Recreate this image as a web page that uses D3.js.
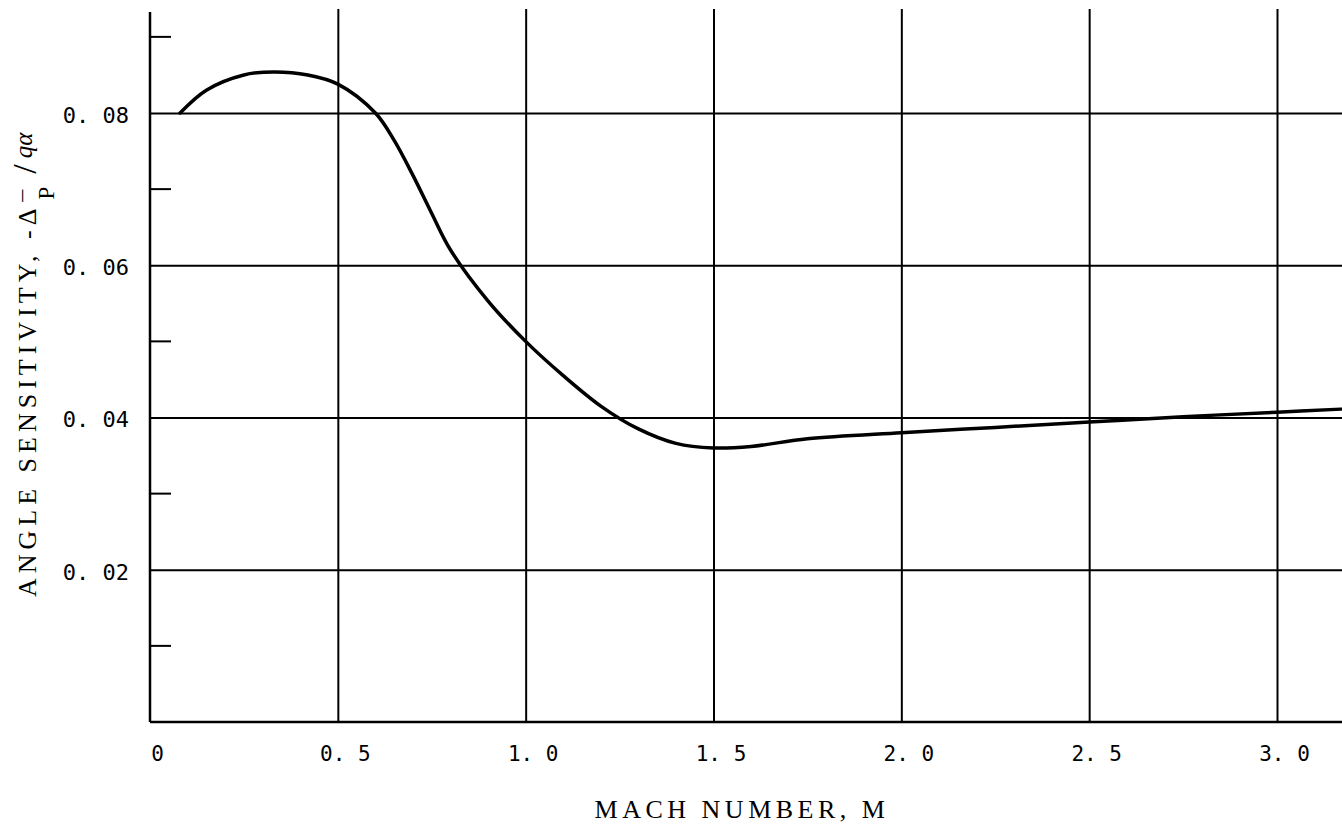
<!DOCTYPE html>
<html>
<head>
<meta charset="utf-8">
<script src="https://cdn.jsdelivr.net/npm/d3@7"></script>
<style>
  body { margin: 0; background: #fff; }
</style>
</head>
<body>
<div id="vis"></div>
<script>
// curve: Mach number vs angle sensitivity
const mach = [0.08, 0.15, 0.25, 0.33, 0.42, 0.5, 0.6, 0.65, 0.7, 0.75, 0.8, 0.9, 1.0, 1.1, 1.2, 1.3, 1.4, 1.5, 1.6, 1.75, 2.0, 2.25, 2.5, 2.75, 3.0, 3.17];
const sensitivity = [0.0800, 0.0830, 0.0850, 0.0854, 0.0850, 0.0838, 0.0800, 0.0764, 0.0718, 0.0668, 0.0620, 0.0553, 0.0500, 0.0455, 0.0415, 0.0385, 0.0366, 0.0360, 0.0362, 0.0372, 0.0380, 0.0387, 0.0394, 0.0401, 0.0407, 0.0411];

const xTicks = [0, 0.5, 1.0, 1.5, 2.0, 2.5, 3.0];
const xTickLabels = ["0", "0. 5", "1. 0", "1. 5", "2. 0", "2. 5", "3. 0"];
const yMajor = [0.02, 0.04, 0.06, 0.08];
const yTickLabels = ["0. 02", "0. 04", "0. 06", "0. 08"];
const yMinor = [0.01, 0.03, 0.05, 0.07, 0.09];

const width = 1342;
const height = 825;
const margin = ({top: 12, right: 0, bottom: 103, left: 150});
const mono = "'DejaVu Sans Mono', 'Liberation Mono', monospace";
const serif = "'Liberation Serif', 'DejaVu Serif', serif";

const svg = d3.create('svg')
    .attr('width', width)
    .attr('height', height);

// scales
const xScale = d3.scaleLinear()
    .domain([0, 3.0])
    .range([150, 1277]);
const yScale = d3.scaleLinear()
    .domain([0, 0.08])
    .range([height - margin.bottom, 113]);
const xMax = xScale.invert(width);
const yTop = 9;

// vertical grid + x labels
const xAxis = svg.append('g')
    .attr('transform', `translate(0, ${yScale(0)})`)
    .call(d3.axisBottom(xScale)
        .tickValues(xTicks)
        .tickSizeInner(-(yScale(0) - yTop))
        .tickSizeOuter(0)
        .tickPadding(24)
        .tickFormat((d, i) => xTickLabels[i]));
xAxis.select('.domain').remove();
xAxis.selectAll('line').attr('stroke', '#000').attr('stroke-width', 2);
xAxis.selectAll('line').filter(d => d === 0).remove();
xAxis.selectAll('text')
    .attr('dx', 7)
    .attr('font-family', mono)
    .attr('font-size', 21)
    .attr('fill', '#000');

// horizontal grid + y labels
const yAxis = svg.append('g')
    .attr('transform', `translate(${margin.left}, 0)`)
    .call(d3.axisLeft(yScale)
        .tickValues(yMajor)
        .tickSizeInner(-(width - margin.left))
        .tickSizeOuter(0)
        .tickPadding(21)
        .tickFormat((d, i) => yTickLabels[i]));
yAxis.select('.domain').remove();
yAxis.selectAll('line').attr('stroke', '#000').attr('stroke-width', 2);
yAxis.selectAll('text')
    .attr('dy', '0.42em')
    .attr('font-family', mono)
    .attr('font-size', 22)
    .attr('fill', '#000');

// minor ticks pointing inward
svg.append('g')
    .selectAll('line')
    .data(yMinor)
    .join('line')
    .attr('x1', margin.left)
    .attr('x2', margin.left + 21)
    .attr('y1', d => yScale(d))
    .attr('y2', d => yScale(d))
    .attr('stroke', '#000')
    .attr('stroke-width', 2);

// frame: left axis and bottom axis
svg.append('line')
    .attr('x1', xScale(0)).attr('x2', xScale(0))
    .attr('y1', margin.top).attr('y2', yScale(0))
    .attr('stroke', '#000').attr('stroke-width', 2.5);
svg.append('line')
    .attr('x1', xScale(0)).attr('x2', xScale(xMax))
    .attr('y1', yScale(0)).attr('y2', yScale(0))
    .attr('stroke', '#000').attr('stroke-width', 2.5);

// the curve
const data = mach.map((m, i) => ({m: m, s: sensitivity[i]}));
const line = d3.line()
    .x(d => xScale(d.m))
    .y(d => yScale(d.s))
    .curve(d3.curveCatmullRom.alpha(0.5));
svg.append('path')
    .datum(data)
    .attr('fill', 'none')
    .attr('stroke', '#000')
    .attr('stroke-width', 3.5)
    .attr('stroke-linecap', 'round')
    .attr('d', line);

// x title
svg.append('text')
    .attr('x', 742)
    .attr('y', 818)
    .attr('text-anchor', 'middle')
    .attr('font-family', serif)
    .attr('font-size', 26)
    .attr('letter-spacing', 4.5)
    .attr('fill', '#000')
    .text('MACH NUMBER,  M');

// y title, rotated
const yTitle = svg.append('text')
    .attr('transform', 'translate(36, 597) rotate(-90)')
    .attr('font-family', serif)
    .attr('font-size', 26)
    .attr('fill', '#000');
yTitle.append('tspan').attr('letter-spacing', 5).text('ANGLE SENSITIVITY,  -Δ');
yTitle.append('tspan').attr('dx', 4).attr('dy', 18).attr('font-size', 23).text('P');
yTitle.append('tspan').attr('dx', -15).attr('dy', -14).attr('font-size', 24).text('¯');
yTitle.append('tspan').attr('dx', 16).attr('dy', -4).attr('font-size', 34).text('/');
yTitle.append('tspan').attr('dx', 6).attr('dy', -4).attr('font-size', 25).attr('font-style', 'italic').text('qα');

document.getElementById('vis').appendChild(svg.node());
</script>
</body>
</html>
